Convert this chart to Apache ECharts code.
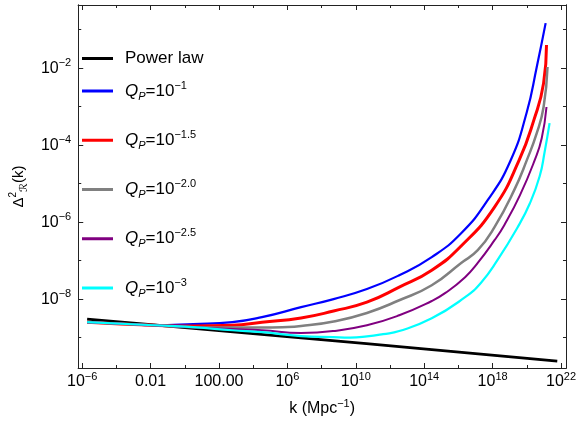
<!DOCTYPE html>
<html>
<head>
<meta charset="utf-8">
<script src="https://cdn.jsdelivr.net/npm/echarts@6/dist/echarts.min.js"></script>
<style>
  html, body { margin: 0; padding: 0; background: #fff; }
  #main { width: 579px; height: 427px; }
</style>
</head>
<body>
<div id="main"></div>
<script>
// values are log10(k) and log10(Delta^2)
var kPow = [-5.71, -1.81, 6.80, 14.44, 21.78];
var dPow = [-8.52, -8.67, -9.01, -9.31, -9.61];

var kBlue = [-5.71, -3.53, -1.81, 0.49, 2.78, 4.51, 6.80, 8.70, 10.65, 12.54, 14.44, 16.16, 17.71, 19.03, 20.00, 20.58, 21.10];
var dBlue = [-8.60, -8.64, -8.68, -8.65, -8.60, -8.47, -8.21, -8.00, -7.74, -7.38, -6.91, -6.29, -5.43, -4.42, -3.14, -1.97, -0.83];

var kRed = [-5.71, -1.81, 0.49, 2.78, 4.51, 6.80, 8.70, 10.65, 12.54, 14.44, 16.16, 18.11, 19.55, 20.41, 20.98, 21.15];
var dRed = [-8.60, -8.68, -8.70, -8.68, -8.60, -8.49, -8.31, -8.08, -7.69, -7.25, -6.62, -5.61, -4.39, -3.35, -2.39, -1.40];

var kGray = [-5.71, -1.81, 0.49, 2.78, 4.51, 5.70, 6.80, 8.70, 10.65, 12.54, 14.44, 16.16, 17.13, 18.11, 19.26, 20.00, 20.58, 20.98, 21.21];
var dGray = [-8.60, -8.68, -8.73, -8.74, -8.74, -8.73, -8.70, -8.58, -8.36, -8.03, -7.64, -7.06, -6.73, -6.13, -5.17, -4.39, -3.69, -3.01, -1.97];

var kPurple = [-5.71, -1.81, 0.49, 2.78, 4.51, 6.80, 8.70, 10.65, 12.54, 14.44, 15.24, 16.39, 17.13, 18.11, 18.68, 19.60, 20.46, 20.87, 21.15];
var dPurple = [-8.60, -8.68, -8.73, -8.78, -8.81, -8.88, -8.83, -8.68, -8.42, -8.05, -7.84, -7.43, -7.06, -6.47, -6.08, -5.30, -4.39, -3.82, -3.01];

var kCyan = [-5.71, -1.81, 0.49, 2.78, 4.51, 6.80, 8.70, 9.67, 10.65, 11.60, 12.54, 14.44, 16.39, 17.31, 18.28, 19.43, 20.18, 20.75, 21.04, 21.33];
var dCyan = [-8.60, -8.68, -8.73, -8.81, -8.86, -8.96, -8.99, -9.00, -8.97, -8.91, -8.83, -8.50, -7.95, -7.58, -6.99, -6.16, -5.51, -4.81, -4.18, -3.43];

var xMajor = [-6, -2, 2, 6, 10, 14, 18, 22];
var xMinor = [-4, 0, 4, 8, 12, 16, 20];
var yMajor = [-8, -6, -4, -2];
var yMinor = [-9, -7, -5, -3, -1];

var names = ['Power law', 'Q-1', 'Q-1.5', 'Q-2.0', 'Q-2.5', 'Q-3'];
var colors = ['#000000', '#0000ff', '#ff0000', '#808080', '#800080', '#00ffff'];
var widths = [2.8, 2.2, 3, 2.5, 2, 2.2];

function pairs(a, b) {
	var out = [];
	for (var i = 0; i < a.length; i++) out.push([a[i], b[i]]);
	return out;
}

var FONT = 'Liberation Sans, Arial, Helvetica, sans-serif';
var axisColor = '#222';

var supRich = {
	b : { fontSize : 16, lineHeight : 22, fontFamily : FONT, color : '#000' },
	s : { fontSize : 11, lineHeight : 11, verticalAlign : 'top', fontFamily : FONT, color : '#000' }
};

function xLabel(v) {
	if (v == -2) return '{b|0.01}';
	if (v == 2) return '{b|100.00}';
	return '{b|10}{s|' + String(v).replace('-', '\u2212') + '}';
}
function yLabel(v) {
	return '{b|10}{s|' + String(v).replace('-', '\u2212') + '}';
}

function tickAxis(kind, pos, vals, len, label) {
	var ax = {
		type : 'value',
		position : pos,
		min : kind == 'x' ? -6.23 : -9.79,
		max : kind == 'x' ? 22.29 : -0.36,
		axisLine : { show : true, onZero : false, lineStyle : { color : axisColor, width : 1 } },
		axisTick : { show : true, inside : true, length : len, customValues : vals, lineStyle : { color : axisColor, width : 1 } },
		axisLabel : { show : false },
		splitLine : { show : false }
	};
	if (label) {
		ax.axisLabel = {
			show : true,
			customValues : vals,
			margin : kind == 'x' ? 3 : 7,
			formatter : kind == 'x' ? xLabel : yLabel,
			rich : supRich
		};
	}
	return ax;
}

var xAxes = [
	tickAxis('x', 'bottom', xMajor, 5, true),
	tickAxis('x', 'bottom', xMinor, 3, false),
	tickAxis('x', 'top', xMajor, 5, false),
	tickAxis('x', 'top', xMinor, 3, false)
];
xAxes[0].name = '{b|k (Mpc}{s|\u22121}{b|)}';
xAxes[0].nameLocation = 'middle';
xAxes[0].nameGap = 30;
xAxes[0].nameTextStyle = { rich : supRich };

var yAxes = [
	tickAxis('y', 'left', yMajor, 5, true),
	tickAxis('y', 'left', yMinor, 3, false),
	tickAxis('y', 'right', yMajor, 5, false),
	tickAxis('y', 'right', yMinor, 3, false)
];
yAxes[0].name = '{b|\u0394}{s|2}{u|\u211B}{b|(k)}';
yAxes[0].nameLocation = 'middle';
yAxes[0].nameRotate = 90;
yAxes[0].nameGap = 46;
yAxes[0].nameTextStyle = {
	rich : {
		b : { fontSize : 15, lineHeight : 22, fontFamily : FONT, color : '#000' },
		s : { fontSize : 10, lineHeight : 11, verticalAlign : 'top', fontFamily : FONT, color : '#000' },
		u : { fontSize : 11, lineHeight : 11, verticalAlign : 'bottom', fontFamily : 'DejaVu Sans, sans-serif', color : '#000' }
	}
};

var kAll = [kPow, kBlue, kRed, kGray, kPurple, kCyan];
var dAll = [dPow, dBlue, dRed, dGray, dPurple, dCyan];
var series = [];
for (var i = 0; i < names.length; i++) {
	series.push({
		name : names[i],
		type : 'line',
		data : pairs(kAll[i], dAll[i]),
		showSymbol : false,
		symbol : 'none',
		smooth : 0.5,
		color : colors[i],
		lineStyle : { color : colors[i], width : widths[i] },
		animation : false
	});
}

var legendRich = {
	b : { fontSize : 17, lineHeight : 22, fontFamily : FONT, color : '#000' },
	q : { fontSize : 17, lineHeight : 22, fontStyle : 'italic', fontFamily : FONT, color : '#000' },
	p : { fontSize : 11, lineHeight : 11, fontStyle : 'italic', verticalAlign : 'bottom', fontFamily : FONT, color : '#000' },
	s : { fontSize : 11, lineHeight : 11, verticalAlign : 'top', fontFamily : FONT, color : '#000' }
};
function legendText(name) {
	if (name == 'Power law') return '{b|Power law}';
	return '{q|Q}{p|P}{b|=10}{s|' + name.substring(1).replace('-', '\u2212') + '}';
}

var legendBase = {
	left : 82,
	padding : 0,
	icon : 'rect',
	itemWidth : 31, itemHeight : 3, itemGap : 27.25,
	formatter : legendText,
	textStyle : { rich : legendRich, padding : [0, 0, 0, 7] },
	selectedMode : false
};
var legendA = Object.assign({}, legendBase, { data : [ names[0] ], top : 50 });
var legendB = Object.assign({}, legendBase, { data : names.slice(1), orient : 'vertical', top : 80 });

var option = {
	animation : false,
	grid : { left : 73, right : 10, top : 5, bottom : 59, containLabel : false },
	legend : [ legendA, legendB ],
	xAxis : xAxes,
	yAxis : yAxes,
	series : series
};

var myChart = echarts.init(document.getElementById('main'), null, { renderer : 'canvas' });
myChart.setOption(option);
</script>
</body>
</html>
